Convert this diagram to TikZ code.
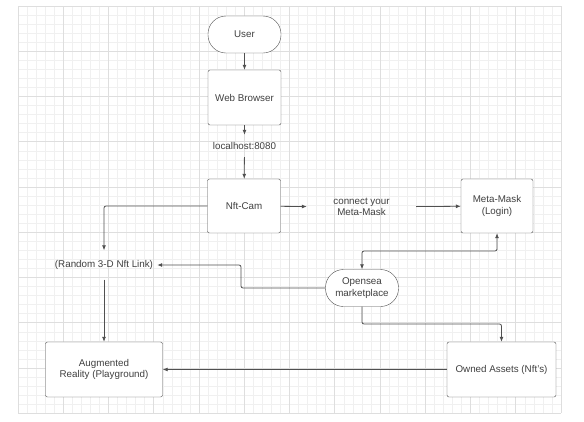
\documentclass[tikz,border=0pt]{standalone}
\usepackage{fontspec}
\setmainfont{Liberation Sans}
\usepackage{xcolor}
\usepackage{tikz}
\usetikzlibrary{shapes,arrows.meta}
\definecolor{gridminor}{HTML}{F0F0F0}
\definecolor{gridmajor}{HTML}{DEDEDE}
\definecolor{linegray}{HTML}{505050}
\definecolor{textgray}{HTML}{404040}

\begin{document}
\begin{tikzpicture}[
    x=1pt, y=-1pt,
    box/.style={draw=linegray, fill=white, rectangle, rounded corners=2pt, align=center, text=textgray,
        font=\fontsize{9.8}{11.6}\selectfont, minimum width=73pt, minimum height=55pt, inner sep=0pt},
    pill/.style={box, rounded corners=18pt, minimum height=37pt},
    tag/.style={align=center, text=textgray, font=\fontsize{9.8}{11.6}\selectfont, inner sep=0pt},
    arrow/.style={-{Latex[length=5pt,width=4pt]}, draw=linegray, line width=0.8pt, rounded corners=2pt},
    plain/.style={draw=linegray, line width=0.8pt, rounded corners=2pt}
]
\useasboundingbox (0,0) rectangle (584,421);
\fill[white] (0,0) rectangle (584,421);

% grid
\foreach \i in {0,...,60} {
    \pgfmathsetmacro{\gx}{18+\i*9.05}
    \draw[gridminor, line width=0.6pt] (\gx,6) -- (\gx,413);
}
\foreach \j in {0,...,45} {
    \pgfmathsetmacro{\gy}{6+\j*9.05}
    \draw[gridminor, line width=0.6pt] (18,\gy) -- (561,\gy);
}
\foreach \i in {0,...,12} \draw[gridmajor, line width=0.7pt] ({18+\i*45.25},6) -- ({18+\i*45.25},413);
\foreach \j in {0,...,9} \draw[gridmajor, line width=0.7pt] (18,{6+\j*45.25}) -- (561,{6+\j*45.25});

\node[pill] (user) at (244.5,34.5) {User};
\node[box] (web) at (244.5,97.5) {Web Browser};
\node[tag, minimum height=22pt] (host) at (244.5,146) {localhost:8080};
\node[box, minimum height=54pt] (nft) at (244,206) {Nft-Cam};
\node[tag, minimum width=109pt] (conn) at (361.5,207) {connect your\\Meta-Mask};
\node[box, minimum width=72pt, minimum height=54pt] (meta) at (497,206) {Meta-Mask\\(Login)};
\node[tag, minimum height=29pt, inner xsep=4pt] (rand) at (104,265) {(Random 3-D Nft Link)};
\node[pill] (open) at (362,288) {Opensea\\marketplace};
\node[box, minimum width=117pt] (aug) at (104,369.5) {Augmented\\Reality (Playground)};
\node[box, minimum width=109pt] (owned) at (501.5,369.5) {Owned Assets (Nft's)};

% top column
\draw[arrow] (user) -- (web);
\draw[arrow] (web) -- (host);
\draw[arrow] (host) -- (nft);

% to the right
\draw[arrow] (nft) -- (conn);
\draw[arrow] (conn) -- (meta);
\draw[arrow, {Latex[length=5pt,width=4pt]}-{Latex[length=5pt,width=4pt]}] (meta.south) |- (497,251) -| (open.north);

% left side
\draw[arrow] (nft.west) -| (rand.north);
\draw[arrow] (open.west) -| (241,265) -- (rand.east);
\draw[arrow] (rand.south) -- (aug.north);

% bottom line
\draw[arrow] (open.south) |- (501.5,324) -- (owned.north);
\draw[arrow] (owned) -- (aug);

\end{tikzpicture}
\end{document}
